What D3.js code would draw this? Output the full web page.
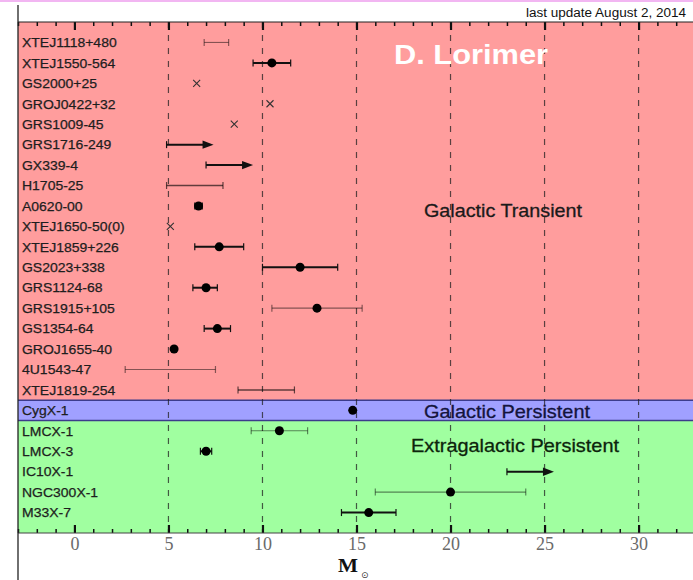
<!DOCTYPE html>
<html><head><meta charset="utf-8">
<script src="https://cdn.jsdelivr.net/npm/d3@7"></script>
<style>body{margin:0;background:#fff;overflow:hidden} svg{display:block}</style>
</head><body><svg id="c" width="693" height="580"></svg>
<script>
// ---- data ----
const sources = ["XTEJ1118+480","XTEJ1550-564","GS2000+25","GROJ0422+32","GRS1009-45","GRS1716-249","GX339-4","H1705-25","A0620-00","XTEJ1650-50(0)","XTEJ1859+226","GS2023+338","GRS1124-68","GRS1915+105","GS1354-64","GROJ1655-40","4U1543-47","XTEJ1819-254","CygX-1","LMCX-1","LMCX-3","IC10X-1","NGC300X-1","M33X-7"];
const groups = ["Galactic Transient","Galactic Transient","Galactic Transient","Galactic Transient","Galactic Transient","Galactic Transient","Galactic Transient","Galactic Transient","Galactic Transient","Galactic Transient","Galactic Transient","Galactic Transient","Galactic Transient","Galactic Transient","Galactic Transient","Galactic Transient","Galactic Transient","Galactic Transient","Galactic Persistent","Extragalactic Persistent","Extragalactic Persistent","Extragalactic Persistent","Extragalactic Persistent","Extragalactic Persistent"];
const groupNames = ["Galactic Transient","Galactic Persistent","Extragalactic Persistent"];
// kind of estimate: measured mass with range, range only, rough value (cross), lower limit (arrow)
const kind = ["range","point","cross","cross","cross","lower","lower","range","point","cross","point","point","point","point","point","point","range","range","point","point","point","lower","point","point"];
const mass     = [null,10.5,6.5,10.4,8.5,null,null,null,6.6,5.1,7.7,12.0,7.0,12.9,7.6,5.3,null,null,14.8,10.9,7.0,null,20.0,15.65];
const massLow  = [6.9,9.5,null,null,null,4.9,7.0,4.9,6.4,null,6.4,10.0,6.3,10.5,6.9,null,2.7,8.7,null,9.4,6.7,23.0,16.0,14.2];
const massHigh = [8.2,11.5,null,null,null,7.4,9.5,7.9,6.8,null,9.0,14.0,7.6,15.3,8.3,null,7.5,11.7,null,12.4,7.3,25.5,24.0,17.1];
const certainty = ["loose","firm",null,null,null,"firm","firm","medium","firm",null,"firm","firm","firm","loose","firm","firm","loose","medium","firm","loose","firm","firm","loose","firm"];
const xMajorTicks = [0,5,10,15,20,25,30];
const xDomain = [-3,33];
const title = "D. Lorimer";
const updateNote = "last update August 2, 2014";
const xLabel = "M";
const xLabelSub = "\u2299";

// ---- chart ----
const svg = d3.select("#c");
const pLeft = 18, pTop = 22, pBottom = 533;
const x = d3.scaleLinear().domain(xDomain).range([pLeft, 695]);
const y = d3.scalePoint().domain(sources).range([pTop, pBottom]).padding(1);
const step = y.step();

const bandColor = {"Galactic Transient":"#ff9d9d","Galactic Persistent":"#a0a0ff","Extragalactic Persistent":"#a0ffa0"};
groupNames.forEach(g => {
  const idx = sources.map((s,i)=>i).filter(i=>groups[i]===g);
  const first = idx[0], last = idx[idx.length-1];
  const y0 = first===0 ? pTop : y(sources[first]) - step/2;
  const y1 = last===sources.length-1 ? pBottom : y(sources[last]) + step/2;
  svg.append("rect").attr("x", pLeft).attr("y", y0).attr("width", 693-pLeft).attr("height", y1-y0)
    .attr("fill", bandColor[g]);
});
const pIdx = groups.indexOf("Galactic Persistent");
[y(sources[pIdx]) - step/2, y(sources[pIdx]) + step/2].forEach(yy => {
  svg.append("line").attr("x1", pLeft).attr("x2", 693).attr("y1", yy).attr("y2", yy)
    .attr("stroke", "#3c3c8c").attr("stroke-width", 1.5);
});

// grid
svg.append("g").selectAll("line").data(xMajorTicks.filter(d=>d>0)).join("line")
  .attr("x1", d=>x(d)).attr("x2", d=>x(d)).attr("y1", pTop).attr("y2", pBottom)
  .attr("stroke", "#222").attr("stroke-opacity", 0.75).attr("stroke-width", 1.2)
  .attr("stroke-dasharray", "6,7");

// axes
const minor = d3.range(Math.ceil(xDomain[0]), xDomain[1]+1).filter(d => !xMajorTicks.includes(d));
const bMinor = svg.append("g").attr("transform", `translate(0,${pBottom})`)
  .call(d3.axisBottom(x).tickValues(minor).tickSize(-4).tickFormat(""));
const bMajor = svg.append("g").attr("transform", `translate(0,${pBottom})`)
  .call(d3.axisBottom(x).tickValues(xMajorTicks).tickSize(-8).tickPadding(4).tickFormat(d3.format("d")));
const tMinor = svg.append("g").attr("transform", `translate(0,${pTop})`)
  .call(d3.axisTop(x).tickValues(minor).tickSize(-4).tickFormat(""));
const tMajor = svg.append("g").attr("transform", `translate(0,${pTop})`)
  .call(d3.axisTop(x).tickValues(xMajorTicks).tickSize(-8).tickFormat(""));
[bMinor,bMajor,tMinor,tMajor].forEach(g => {
  g.select(".domain").remove();
  g.selectAll(".tick line").attr("stroke", "#111").attr("stroke-width", 1.5);
});
[bMajor,tMajor].forEach(g => g.selectAll(".tick line").attr("stroke-width", 2.2));
bMajor.selectAll(".tick text").attr("font-family", "'Liberation Serif', serif")
  .attr("font-size", 18).attr("fill", "#6a6a6a");

// frame
svg.append("rect").attr("x",0).attr("y",0).attr("width",693).attr("height",2).attr("fill","#f2b6f2");
svg.append("line").attr("x1", pLeft).attr("x2", 693).attr("y1", pTop).attr("y2", pTop).attr("stroke", "#222").attr("stroke-width", 1.2);
svg.append("line").attr("x1", pLeft).attr("x2", 693).attr("y1", pBottom).attr("y2", pBottom).attr("stroke", "#444").attr("stroke-width", 1.2);
svg.append("line").attr("x1", pLeft).attr("x2", pLeft).attr("y1", 5).attr("y2", 580).attr("stroke", "#222").attr("stroke-width", 1.3);

// row labels
svg.append("g").selectAll("text").data(sources).join("text")
  .attr("x", 22).attr("y", d => y(d)).attr("dy", "0.36em")
  .attr("font-family", "'Liberation Sans', Arial, sans-serif").attr("font-size", 13.2)
  .attr("fill", "#1e1e1e").attr("stroke", "#1e1e1e").attr("stroke-width", 0.25).text(d => d)
  .each(function(){ const w = this.getComputedTextLength(); d3.select(this).attr("textLength", w*1.06).attr("lengthAdjust","spacingAndGlyphs"); });

// marks
const styleOf = {firm:{c:"#111", w:2, o:1}, medium:{c:"#000", w:1.5, o:0.62}, loose:{c:"#000", w:1.1, o:0.48}};
const marks = svg.append("g");
sources.forEach((s,i) => {
  const yy = y(s);
  const st = styleOf[certainty[i]] || styleOf.firm;
  if (kind[i] === "cross") {
    const cx = x(mass[i]), r = 3.5;
    marks.append("path").attr("d", `M${cx-r},${yy-r}L${cx+r},${yy+r}M${cx-r},${yy+r}L${cx+r},${yy-r}`)
      .attr("stroke", "#333").attr("stroke-width", 1.1).attr("fill","none");
    return;
  }
  if (massLow[i] != null) {
    const x0 = x(massLow[i]), x1 = x(massHigh[i]);
    const g = marks.append("g").attr("stroke", st.c).attr("stroke-opacity", st.o).attr("stroke-width", st.w).attr("fill","none");
    if (kind[i] === "lower") {
      g.append("line").attr("x1", x0).attr("x2", x1-9).attr("y1", yy).attr("y2", yy);
      g.append("line").attr("x1", x0).attr("x2", x0).attr("y1", yy-3.5).attr("y2", yy+3.5).attr("stroke-width", 1.2);
      marks.append("path").attr("d", `M${x1},${yy}L${x1-11},${yy-4.2}L${x1-11},${yy+4.2}Z`).attr("fill", "#111");
    } else {
      g.append("line").attr("x1", x0).attr("x2", x1).attr("y1", yy).attr("y2", yy);
      [x0,x1].forEach(xx => g.append("line").attr("x1", xx).attr("x2", xx).attr("y1", yy-3.5).attr("y2", yy+3.5).attr("stroke-width", 1.2));
    }
  }
  if (kind[i] === "point") {
    marks.append("circle").attr("cx", x(mass[i])).attr("cy", yy).attr("r", 4.5).attr("fill", "#000");
  }
});

// texts
function stretched(sel, w){ sel.attr("textLength", w).attr("lengthAdjust","spacingAndGlyphs"); return sel; }
stretched(svg.append("text").attr("x", 394).attr("y", 64).attr("font-family","'Liberation Sans', Arial, sans-serif")
  .attr("font-weight","bold").attr("font-size", 27).attr("fill","#fff").text(title), 154);
stretched(svg.append("text").attr("x", 424).attr("y", 217).attr("font-family","'Liberation Sans', Arial, sans-serif")
  .attr("font-size", 19).attr("fill","#1a1a1a").attr("stroke","#1a1a1a").attr("stroke-width",0.3).text(groupNames[0]), 158);
stretched(svg.append("text").attr("x", 424).attr("y", 418).attr("font-family","'Liberation Sans', Arial, sans-serif")
  .attr("font-size", 19).attr("fill","#14143c").attr("stroke","#14143c").attr("stroke-width",0.3).text(groupNames[1]), 166);
stretched(svg.append("text").attr("x", 411).attr("y", 452).attr("font-family","'Liberation Sans', Arial, sans-serif")
  .attr("font-size", 19).attr("fill","#0c240c").attr("stroke","#0c240c").attr("stroke-width",0.3).text(groupNames[2]), 208);
stretched(svg.append("text").attr("x", 526).attr("y", 17).attr("font-family","'Liberation Sans', Arial, sans-serif")
  .attr("font-size", 12.5).attr("fill","#111").text(updateNote), 160);
stretched(svg.append("text").attr("x", 338).attr("y", 572).attr("font-family","'Liberation Serif', serif")
  .attr("font-weight","bold").attr("font-size", 18).attr("fill","#111").text(xLabel), 20);
svg.append("text").attr("x", 361).attr("y", 578).attr("font-family","'DejaVu Sans', sans-serif")
  .attr("font-size", 9).attr("fill","#333").text(xLabelSub);
</script></body></html>
